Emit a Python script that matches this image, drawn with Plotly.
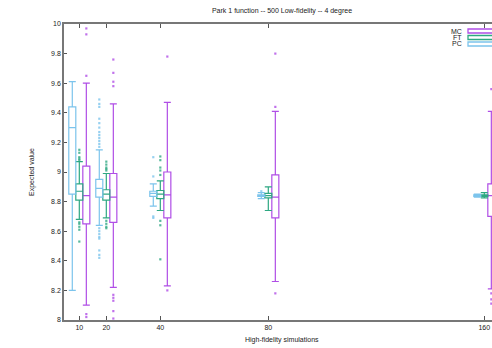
import plotly.graph_objects as go

# ---------------- data ----------------
hf_sims = [10, 20, 40, 80, 160]
x_tick_text = ["10", "20", "40", "80", "160"]
y_tick_vals = [8.0, 8.2, 8.4, 8.6, 8.8, 9.0, 9.2, 9.4, 9.6, 9.8, 10.0]
y_tick_text = ["8", "8.2", "8.4", "8.6", "8.8", "9", "9.2", "9.4", "9.6", "9.8", "10"]

# MC
mc_upper = [9.60, 9.46, 9.47, 9.41, 9.41]
mc_q3 = [9.04, 8.99, 9.00, 8.98, 8.92]
mc_median = [8.84, 8.83, 8.845, 8.83, 8.84]
mc_q1 = [8.65, 8.66, 8.69, 8.69, 8.70]
mc_lower = [8.10, 8.22, 8.23, 8.26, 8.21]
mc_outliers = [
    [9.97, 9.93, 9.65, 8.04, 8.02],
    [9.76, 9.67, 9.61, 9.58, 8.17, 8.15, 8.13, 8.06, 8.01],
    [9.78, 8.20],
    [9.80, 9.44, 8.18],
    [9.56, 8.18, 8.14, 8.11],
]

# FT
ft_upper = [9.07, 8.99, 8.94, 8.90, 8.86]
ft_q3 = [8.92, 8.88, 8.875, 8.855, 8.845]
ft_median = [8.87, 8.85, 8.85, 8.84, 8.84]
ft_q1 = [8.81, 8.81, 8.82, 8.825, 8.835]
ft_lower = [8.68, 8.69, 8.74, 8.74, 8.825]
ft_outliers = [
    [9.15, 9.13, 9.10, 9.09, 9.08, 8.66, 8.65, 8.63, 8.61, 8.53],
    [9.07, 9.05, 9.03, 9.02, 9.01, 8.67, 8.65, 8.63, 8.62],
    [9.105, 9.08, 9.03, 9.01, 8.98, 8.67, 8.64, 8.41],
    [],
    [],
]

# PC
pc_upper = [9.61, 9.15, 8.92, 8.86, 8.85]
pc_q3 = [9.44, 8.95, 8.87, 8.845, 8.845]
pc_median = [9.30, 8.89, 8.855, 8.84, 8.84]
pc_q1 = [8.85, 8.83, 8.835, 8.835, 8.835]
pc_lower = [8.20, 8.64, 8.77, 8.82, 8.83]
pc_outliers = [
    [],
    [9.49, 9.46, 9.44, 9.36, 9.33, 9.30, 9.27, 9.25, 9.23, 9.21, 9.19, 9.17,
     8.62, 8.60, 8.58, 8.56, 8.55, 8.47, 8.44, 8.42],
    [9.10, 8.97, 8.70, 8.69],
    [8.87],
    [],
]

# ---------------- style ----------------
FONT = "Liberation Sans, Arial, sans-serif"
series = [
    ("MC", "#b04ee6", 2.6, mc_q1, mc_median, mc_q3, mc_lower, mc_upper, mc_outliers),
    ("FT", "#2ea882", 0.0, ft_q1, ft_median, ft_q3, ft_lower, ft_upper, ft_outliers),
    ("PC", "#7cc4ec", -2.6, pc_q1, pc_median, pc_q3, pc_lower, pc_upper, pc_outliers),
]

fig = go.Figure()
for name, color, off, q1, med, q3, lo, up, outl in series:
    xs = [h + off for h in hf_sims]
    fig.add_trace(go.Box(
        name=name, x=xs, q1=q1, median=med, q3=q3,
        lowerfence=lo, upperfence=up,
        width=2.6, whiskerwidth=1,
        line=dict(color=color, width=1.2),
        fillcolor="rgba(0,0,0,0)", boxpoints=False, showlegend=False,
    ))
    ox, oy = [], []
    for h, vals in zip(hf_sims, outl):
        for v in vals:
            ox.append(h + off)
            oy.append(v)
    fig.add_trace(go.Scatter(
        x=ox, y=oy, mode="markers", showlegend=False,
        marker=dict(color=color, size=2.2, symbol="square", opacity=0.8),
    ))

# custom legend (label left of sample, gnuplot style)
plot_l, plot_r, plot_t, plot_b = 64, 492, 24, 320
pw, ph = plot_r - plot_l, plot_b - plot_t
rows = [31, 37.5, 44]
for (name, color, *_), ry in zip(series, rows):
    yc = 1 - (ry - plot_t) / ph
    hh = 2.0 / ph
    fig.add_shape(type="rect", xref="paper", yref="paper",
                  x0=(468 - plot_l) / pw, x1=1.03, y0=yc - hh, y1=yc + hh,
                  line=dict(color=color, width=1.3), fillcolor="rgba(0,0,0,0)")
    fig.add_annotation(text=name, xref="paper", yref="paper",
                       x=(464 - plot_l) / pw, y=yc, xanchor="right", yanchor="middle",
                       showarrow=False, font=dict(family=FONT, size=7, color="#222"))

# axis titles
fig.add_annotation(text="High-fidelity simulations", xref="paper", yref="paper",
                   x=(282 - plot_l) / pw, y=1 - (340 - plot_t) / ph,
                   xanchor="center", yanchor="middle", showarrow=False,
                   font=dict(family=FONT, size=7, color="#222"))
fig.add_annotation(text="Expected value", xref="paper", yref="paper",
                   x=(32 - plot_l) / pw, y=1 - (172 - plot_t) / ph, textangle=-90,
                   xanchor="center", yanchor="middle", showarrow=False,
                   font=dict(family=FONT, size=7, color="#222"))

fig.update_layout(
    width=492, height=348,
    margin=dict(l=plot_l, r=0, t=plot_t, b=348 - plot_b, autoexpand=False),
    paper_bgcolor="white", plot_bgcolor="white",
    boxmode="overlay",
    title=dict(text="Park 1 function -- 500 Low-fidelity -- 4 degree",
               x=(282 - plot_l) / pw, xref="paper", xanchor="center",
               y=1 - 11 / 348, yref="container", yanchor="middle",
               font=dict(family=FONT, size=7, color="#222")),
    font=dict(family=FONT, size=7, color="#222"),
    xaxis=dict(range=[4.33, 162.85], tickvals=hf_sims, ticktext=x_tick_text,
               ticks="inside", ticklen=4, tickcolor="#555", tickwidth=1,
               showline=True, linecolor="#777", linewidth=1.5, mirror="ticks",
               showgrid=False, zeroline=False, tickfont=dict(size=7)),
    yaxis=dict(range=[8, 10], tickvals=y_tick_vals, ticktext=y_tick_text,
               ticks="inside", ticklen=3, tickcolor="#555", tickwidth=1,
               showline=True, linecolor="#777", linewidth=1.5, mirror=False,
               showgrid=False, zeroline=False, tickfont=dict(size=7)),
)

fig.write_html("out.html")
